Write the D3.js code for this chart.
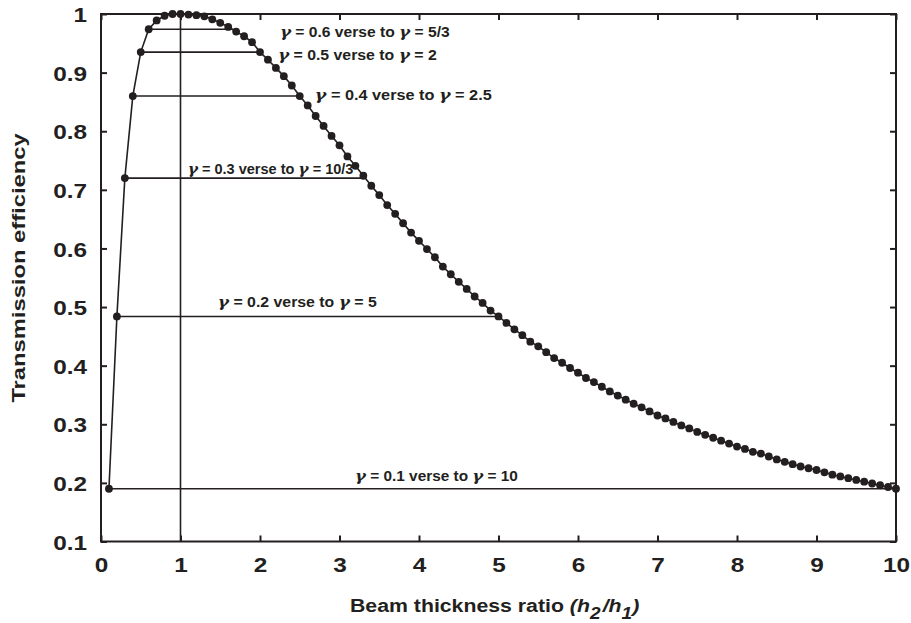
<!DOCTYPE html>
<html><head><meta charset="utf-8">
<script src="https://cdn.jsdelivr.net/npm/d3@7"></script>
<style>body{margin:0;background:#fff}svg{display:block}</style>
</head><body>
<svg id="c" width="911" height="623"></svg>
<script>
// thickness ratio (x) sampled every 0.1 from 0.1 to 10
const ratios = d3.range(1, 101).map(i => i / 10);
// transmission efficiency, one per ratio
const efficiency = [
 0.190,0.484,0.720,0.860,0.935,0.974,0.989,0.997,1.000,1.000,
 0.999,0.998,0.996,0.991,0.985,0.978,0.970,0.962,0.952,0.935,
 0.922,0.908,0.894,0.878,0.860,0.844,0.826,0.809,0.792,0.776,
 0.757,0.741,0.724,0.707,0.691,0.674,0.659,0.643,0.627,0.613,
 0.599,0.585,0.569,0.556,0.543,0.531,0.518,0.507,0.494,0.484,
 0.473,0.462,0.452,0.441,0.433,0.423,0.413,0.405,0.396,0.388,
 0.379,0.372,0.364,0.356,0.349,0.342,0.335,0.329,0.322,0.315,
 0.310,0.304,0.298,0.293,0.287,0.282,0.277,0.272,0.267,0.262,
 0.258,0.253,0.250,0.245,0.240,0.236,0.232,0.228,0.225,0.222,
 0.218,0.214,0.211,0.208,0.205,0.202,0.199,0.196,0.193,0.190];
// paired ratios γ and 1/γ with equal efficiency
const pairLow  = [0.1, 0.2, 0.3, 0.4, 0.5, 0.6];
const pairHigh = [10, 5, 10/3, 2.5, 2, 5/3];
const pairLowText  = ["0.1","0.2","0.3","0.4","0.5","0.6"];
const pairHighText = ["10","5","10/3","2.5","2","5/3"];
const pairEff  = [0.190, 0.484, 0.720, 0.860, 0.935, 0.974];
// label anchors (data coords) and label widths (px)
const labelX = [3.195, 1.47, 1.09, 2.69, 2.225, 2.25];
const labelY = [0.203, 0.500, 0.727, 0.8533, 0.9215, 0.9616];
const labelW = [163, 159, 166, 177, 159, 170];
const xTicks = [0,1,2,3,4,5,6,7,8,9,10];
const yTicks = [0.1,0.2,0.3,0.4,0.5,0.6,0.7,0.8,0.9,1];

const ink = "#231f20";
const FONT = "Liberation Sans, Arial, Helvetica, sans-serif";
const SX = 1.16; // horizontal widening of the lettering
const L = 101, R = 896, T = 14, B = 541.5;
const svg = d3.select("#c");
const x = d3.scaleLinear().domain([0, 10]).range([L, R]);
const y = d3.scaleLinear().domain([0.1, 1]).range([B, T]);

const g = svg.append("g");
// frame
g.append("rect").attr("x", L).attr("y", T).attr("width", R - L).attr("height", B - T)
 .attr("fill", "none").attr("stroke", ink).attr("stroke-width", 2);

// axes with inward ticks
const fmtY = d => d === 1 ? "1" : d3.format(".1f")(d);
const axB = svg.append("g").attr("transform", `translate(0,${B})`)
  .call(d3.axisBottom(x).tickValues(xTicks).tickSize(-6).tickFormat(d3.format("d")));
const axL = svg.append("g").attr("transform", `translate(${L},0)`)
  .call(d3.axisLeft(y).tickValues(yTicks).tickSize(-6).tickFormat(fmtY));
const axT = svg.append("g").attr("transform", `translate(0,${T})`)
  .call(d3.axisTop(x).tickValues(xTicks).tickSize(-6).tickFormat(""));
const axR = svg.append("g").attr("transform", `translate(${R},0)`)
  .call(d3.axisRight(y).tickValues(yTicks).tickSize(-6).tickFormat(""));
[axB, axL, axT, axR].forEach(a => {
  a.select(".domain").remove();
  a.selectAll(".tick line").attr("stroke", ink).attr("stroke-width", 2);
  a.selectAll("text").attr("fill", ink).attr("font-family", FONT)
   .attr("font-weight", "bold").attr("font-size", 21);
});
axB.selectAll("text").attr("y", 31).attr("dy", 0).attr("x", 0)
   .attr("transform", `scale(${SX},1)`);
axL.selectAll("text").attr("x", -14 / SX).attr("dy", "0.36em")
   .attr("transform", `scale(${SX},1)`);

// vertical line at ratio 1
g.append("line").attr("x1", x(1)).attr("x2", x(1)).attr("y1", y(0.1)).attr("y2", y(1))
 .attr("stroke", ink).attr("stroke-width", 1.6);

// horizontal pair lines
g.selectAll("line.pair").data(pairLow).join("line").attr("class", "pair")
 .attr("x1", (d, i) => x(d)).attr("x2", (d, i) => x(pairHigh[i]))
 .attr("y1", (d, i) => y(pairEff[i])).attr("y2", (d, i) => y(pairEff[i]))
 .attr("stroke", ink).attr("stroke-width", 1.6);

// curve
const pts = ratios.map((r, i) => [r, efficiency[i]]);
g.append("path").datum(pts)
 .attr("d", d3.line().x(d => x(d[0])).y(d => y(d[1])))
 .attr("fill", "none").attr("stroke", ink).attr("stroke-width", 1.6);
g.selectAll("circle").data(pts).join("circle")
 .attr("cx", d => x(d[0])).attr("cy", d => y(d[1])).attr("r", 3.9).attr("fill", ink);

// labels
const labG = g.selectAll("g.lab").data(pairLow).join("g").attr("class", "lab");
labG.each(function(d, i) {
  const gg = d3.select(this);
  const t = gg.append("text")
    .attr("font-family", FONT).attr("font-weight", "bold")
    .attr("font-size", 14).attr("fill", ink);
  t.append("tspan").text("γ").attr("font-family", "DejaVu Serif, serif").attr("font-style", "italic").attr("font-size", 15);
  t.append("tspan").text(" = " + pairLowText[i] + " verse to ");
  t.append("tspan").text("γ").attr("font-family", "DejaVu Serif, serif").attr("font-style", "italic").attr("font-size", 15);
  t.append("tspan").text(" = " + pairHighText[i]);
  const w = t.node().getComputedTextLength();
  gg.attr("transform", `translate(${x(labelX[i])},${y(labelY[i])}) scale(${labelW[i] / w},1)`);
});

// axis titles
const xt = svg.append("text").attr("transform", `translate(350,612) scale(1.12,1)`)
 .attr("font-family", FONT).attr("font-weight", "bold")
 .attr("font-size", 19).attr("fill", ink);
xt.append("tspan").text("Beam thickness ratio ");
xt.append("tspan").text("(h").attr("font-style", "italic");
xt.append("tspan").text("2").attr("font-style", "italic").attr("dy", 7).attr("font-size", 17);
xt.append("tspan").text("/h").attr("font-style", "italic").attr("dy", -7).attr("dx", 2);
xt.append("tspan").text("1").attr("font-style", "italic").attr("dy", 7).attr("font-size", 17);
xt.append("tspan").text(")").attr("font-style", "italic").attr("dy", -7);

svg.append("text").attr("transform", "translate(25,268) rotate(-90) scale(1.32,1)")
 .attr("text-anchor", "middle")
 .attr("font-family", FONT).attr("font-weight", "bold")
 .attr("font-size", 18).attr("fill", ink).text("Transmission efficiency");
</script>
</body></html>
